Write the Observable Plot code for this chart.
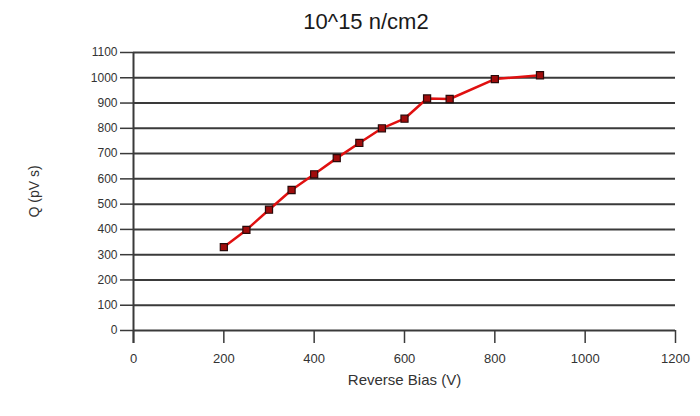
<!DOCTYPE html>
<html>
<head>
<meta charset="utf-8">
<script src="https://cdn.jsdelivr.net/npm/d3@7"></script>
<script src="https://cdn.jsdelivr.net/npm/@observablehq/plot@0.6"></script>
<style>
  html, body { margin: 0; padding: 0; background: #fff; }
  #wrap { width: 700px; height: 416px; position: relative; overflow: hidden; }
  #title { height: 40px; width: 700px; box-sizing: border-box; padding-left: 32px; text-align: center;
           font-family: "Liberation Sans", Arial, sans-serif; font-size: 22px; line-height: 44px; color: #1a1a1a; }
</style>
</head>
<body>
<div id="wrap">
  <div id="title">10^15 n/cm2</div>
  <div id="chart"></div>
</div>
<script>
const bias = [200, 250, 300, 350, 400, 450, 500, 550, 600, 650, 700, 800, 900];
const charge = [330, 398, 478, 556, 618, 682, 742, 800, 838, 918, 916, 995, 1010];
const xTicks = [0, 200, 400, 600, 800, 1000, 1200];
const yTicks = [0, 100, 200, 300, 400, 500, 600, 700, 800, 900, 1000, 1100];

const data = bias.map((b, i) => ({bias: b, q: charge[i]}));

const chart = Plot.plot({
  width: 700,
  height: 376,
  marginLeft: 133,
  marginRight: 25,
  marginTop: 12,
  marginBottom: 86,
  style: {fontFamily: "'Liberation Sans', Arial, sans-serif", fontSize: "12px", color: "#333", background: "#fff"},
  x: {domain: [0, 1200]},
  y: {domain: [0, 1100]},
  marks: [
    Plot.ruleY(yTicks, {stroke: "#3a3a3a", strokeWidth: 2}),
    Plot.ruleX([0], {stroke: "#3a3a3a", strokeWidth: 2, insetBottom: -13}),
    Plot.axisY({ticks: yTicks, tickFormat: d3.format("d"), tickSize: 13, tickPadding: 3, stroke: "#3a3a3a", strokeWidth: 1.5,
      fontSize: 12, label: null}),
    Plot.axisY({ticks: [], label: "Q (pV s)", labelAnchor: "center", labelArrow: "none", labelOffset: 104, fontSize: 14}),
    Plot.axisX({ticks: xTicks, tickFormat: d3.format("d"), tickSize: 13, tickPadding: 10, stroke: "#3a3a3a", strokeWidth: 1.5,
      fontSize: 13, label: null}),
    Plot.axisX({ticks: [], label: "Reverse Bias (V)", labelAnchor: "center", labelArrow: "none", labelOffset: 54, fontSize: 15}),
    Plot.line(data, {x: "bias", y: "q", stroke: "#e01010", strokeWidth: 2.5}),
    Plot.dot(data, {x: "bias", y: "q", symbol: "square", r: 4, fill: "#a00c0c", stroke: "#2a0a0a", strokeWidth: 1.2})
  ]
});
document.getElementById("chart").appendChild(chart);
</script>
</body>
</html>
